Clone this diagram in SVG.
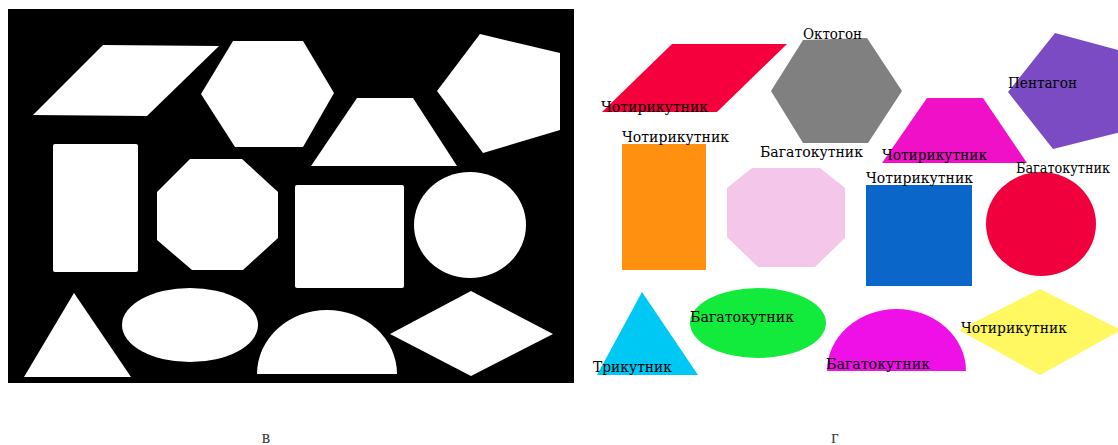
<svg xmlns="http://www.w3.org/2000/svg" width="1118" height="445" viewBox="0 0 1118 445">
<style>
.w{fill:#ffffff}
.lbl{font-family:"DejaVu Serif","Liberation Serif",serif;font-size:14px;fill:#000}
.cap{font-family:"Liberation Serif",serif;font-size:18px;fill:#444;text-anchor:middle}
</style>
<rect width="1118" height="445" fill="#ffffff"/>
<g id="panel-v">
<rect x="8" y="9" width="566" height="374" fill="#000000"/>
<polygon class="w" points="103,45 219,46 147,116 33,115"/>
<polygon class="w" points="233,41 303,41 334,93 303,147 235,147 201,94"/>
<polygon class="w" points="357,98 413,98 457,166 311,166"/>
<polygon class="w" points="480,34 560,53 560,130 483,153 437,91"/>
<rect class="w" x="53" y="144" width="85" height="128" rx="2"/>
<polygon class="w" points="190,159 242,159 278,192 278,238 243,270 192,270 157,240 157,192"/>
<rect class="w" x="295" y="185" width="109" height="103" rx="2"/>
<ellipse class="w" cx="470" cy="225" rx="56" ry="53"/>
<polygon class="w" points="74,293 24,377 131,377"/>
<ellipse class="w" cx="190" cy="325" rx="68" ry="37"/>
<path class="w" d="M257,374 A70,64 0 0 1 397,374 Z"/>
<polygon class="w" points="390,334 471,291 553,334 471,376"/>
</g>
<g id="panel-g">
<g id="n-parallelogram"><polygon points="672,44 787,44 717,112 602,112" fill="#f5003c"/><text class="lbl" x="601" y="112" textLength="107" lengthAdjust="spacingAndGlyphs">Чотирикутник</text></g>
<g id="n-hexagon"><polygon points="803,40 867,38 902,91 868,143 803,143 771,91" fill="#808080"/><text class="lbl" x="803" y="39" textLength="59" lengthAdjust="spacingAndGlyphs">Октогон</text></g>
<g id="n-trapezoid"><polygon points="927,98 983,98 1027,163 882,163" fill="#f010c8"/><text class="lbl" x="882" y="160" textLength="105" lengthAdjust="spacingAndGlyphs">Чотирикутник</text></g>
<g id="n-pentagon"><polygon points="1055,33 1129,53 1129,130 1053,149 1008,92" fill="#7a4bc2"/><text class="lbl" x="1008" y="88" textLength="69" lengthAdjust="spacingAndGlyphs">Пентагон</text></g>
<g id="n-rect"><rect x="622" y="144" width="84" height="126" fill="#ff9010"/><text class="lbl" x="622" y="142" textLength="107" lengthAdjust="spacingAndGlyphs">Чотирикутник</text></g>
<g id="n-octagon"><polygon points="752,168 820,168 845,188 845,238 815,267 758,267 727,237 727,188" fill="#f3c6ea"/><text class="lbl" x="760" y="157" textLength="103" lengthAdjust="spacingAndGlyphs">Багатокутник</text></g>
<g id="n-square"><rect x="866" y="185" width="106" height="101" fill="#0a66c8"/><text class="lbl" x="866" y="183" textLength="107" lengthAdjust="spacingAndGlyphs">Чотирикутник</text></g>
<g id="n-circle"><ellipse cx="1041" cy="224" rx="55" ry="52" fill="#f0003c"/><text class="lbl" x="1016" y="173" textLength="94" lengthAdjust="spacingAndGlyphs">Багатокутник</text></g>
<g id="n-triangle"><polygon points="642,292 597,375 698,375" fill="#00c8f5"/><text class="lbl" x="593" y="372" textLength="79" lengthAdjust="spacingAndGlyphs">Трикутник</text></g>
<g id="n-ellipse"><ellipse cx="758" cy="323" rx="68" ry="35" fill="#12ea3c"/><text class="lbl" x="690" y="322" textLength="104" lengthAdjust="spacingAndGlyphs">Багатокутник</text></g>
<g id="n-halfcircle"><path d="M827,371 A69.5,62 0 0 1 966,371 Z" fill="#ee10e6"/><text class="lbl" x="826" y="369" textLength="104" lengthAdjust="spacingAndGlyphs">Багатокутник</text></g>
<g id="n-diamond"><polygon points="959,330 1040,289 1121,330 1040,375" fill="#fff860"/><text class="lbl" x="961" y="333" textLength="106" lengthAdjust="spacingAndGlyphs">Чотирикутник</text></g>
</g>
<g id="captions">
<text class="cap" x="266" y="443">в</text>
<text class="cap" x="835" y="443">г</text>
</g>
<g id="connectors"/>
</svg>
